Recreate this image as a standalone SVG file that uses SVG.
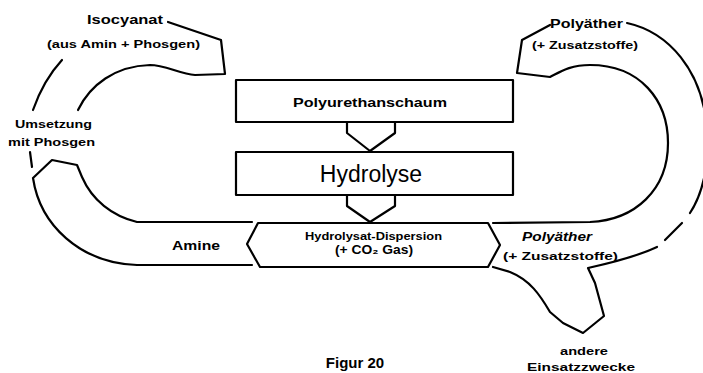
<svg xmlns="http://www.w3.org/2000/svg" width="703" height="373" viewBox="0 0 703 373">
<style>
.ln{fill:none;stroke:#000;stroke-width:2.2;stroke-linejoin:round;stroke-linecap:round}
.bx{fill:#fff;stroke:#000;stroke-width:2.2;stroke-linejoin:round}
.t{font-family:"Liberation Sans",Arial,sans-serif;font-weight:bold;fill:#000}
.big{font-family:"Liberation Sans",Arial,sans-serif;font-weight:normal;fill:#000}
</style>
<rect width="703" height="373" fill="#fff"/>
<g id="connectors">
  <path class="ln" d="M347,122 L347,133 L370,151 L395,133 L395,122"/>
  <path class="ln" d="M347,195 L347,206 L370,222 L395,206 L395,195"/>
  <!-- left loop lower part -->
  <path class="ln" d="M252,222 L137,222 C112,216 92,200 82,177 L77,165 L52,160 L33,178 C40,225 80,263 137,265 L252,265"/>
  <path class="ln" d="M30,152 L32,167"/>
  <!-- left loop upper part -->
  <path class="ln" d="M33,110 C40,90 50,73 62,60"/>
  <path class="ln" d="M78,110 C90,85 115,66 150,65 C165,65 180,74 195,75 L225,74 L221,40 L168,22"/>
  <!-- right loop -->
  <path class="ln" d="M550,25 L522,40 L517,73 L550,77 C560,72 570,65 590,65 C640,65 668,100 668,143 C668,190 635,220 590,222 L493,223"/>
  <path class="ln" d="M627,23 C668,32 703,70 707,130 C710,165 702,195 690,213"/>
  <path class="ln" d="M682,223 L665,240"/>
  <path class="ln" d="M657,247 C640,255 615,262 588,268 L595,283 L604,316 L583,333 L563,323 L550,312 C540,295 530,280 510,272 L493,267"/>
</g>
<g id="node-polyurethanschaum">
  <rect class="bx" x="236" y="80" width="277" height="42"/>
  <text class="t" x="293" y="107" font-size="12" textLength="154" lengthAdjust="spacingAndGlyphs">Polyurethanschaum</text>
</g>
<g id="node-hydrolyse">
  <rect class="bx" x="236" y="152" width="277" height="43"/>
  <text class="big" x="371" y="182" font-size="23" text-anchor="middle">Hydrolyse</text>
</g>
<g id="node-dispersion">
  <path class="bx" d="M258,223 L488,223 L500,245 L488,267 L260,267 L247,244 Z"/>
  <text class="t" x="305" y="240" font-size="11" textLength="137" lengthAdjust="spacingAndGlyphs">Hydrolysat-Dispersion</text>
  <text class="t" x="335" y="254" font-size="13" textLength="78" lengthAdjust="spacingAndGlyphs">(+ CO₂ Gas)</text>
</g>
<g id="node-isocyanat">
  <text class="t" x="87" y="24" font-size="12" textLength="76" lengthAdjust="spacingAndGlyphs">Isocyanat</text>
  <text class="t" x="47" y="48" font-size="11" textLength="153" lengthAdjust="spacingAndGlyphs">(aus Amin + Phosgen)</text>
</g>
<g id="node-umsetzung">
  <text class="t" x="15" y="128" font-size="11" textLength="77" lengthAdjust="spacingAndGlyphs">Umsetzung</text>
  <text class="t" x="8" y="146" font-size="11" textLength="87" lengthAdjust="spacingAndGlyphs">mit Phosgen</text>
</g>
<g id="node-polyaether-top">
  <text class="t" x="550" y="28" font-size="12" textLength="73" lengthAdjust="spacingAndGlyphs">Polyäther</text>
  <text class="t" x="532" y="49" font-size="11" textLength="106" lengthAdjust="spacingAndGlyphs">(+ Zusatzstoffe)</text>
</g>
<g id="node-amine">
  <text class="t" x="172" y="250" font-size="12" textLength="48" lengthAdjust="spacingAndGlyphs">Amine</text>
</g>
<g id="node-polyaether-mid">
  <text class="t" x="522" y="241" font-size="12" font-style="italic" textLength="70" lengthAdjust="spacingAndGlyphs">Polyäther</text>
  <text class="t" x="503" y="260" font-size="11" textLength="115" lengthAdjust="spacingAndGlyphs">(+ Zusatzstoffe)</text>
</g>
<g id="node-andere">
  <text class="t" x="560" y="355" font-size="11" textLength="48" lengthAdjust="spacingAndGlyphs">andere</text>
  <text class="t" x="527" y="371" font-size="11" textLength="108" lengthAdjust="spacingAndGlyphs">Einsatzzwecke</text>
</g>
<g id="caption">
  <text class="t" x="355" y="368" font-size="15" text-anchor="middle">Figur 20</text>
</g>
</svg>
